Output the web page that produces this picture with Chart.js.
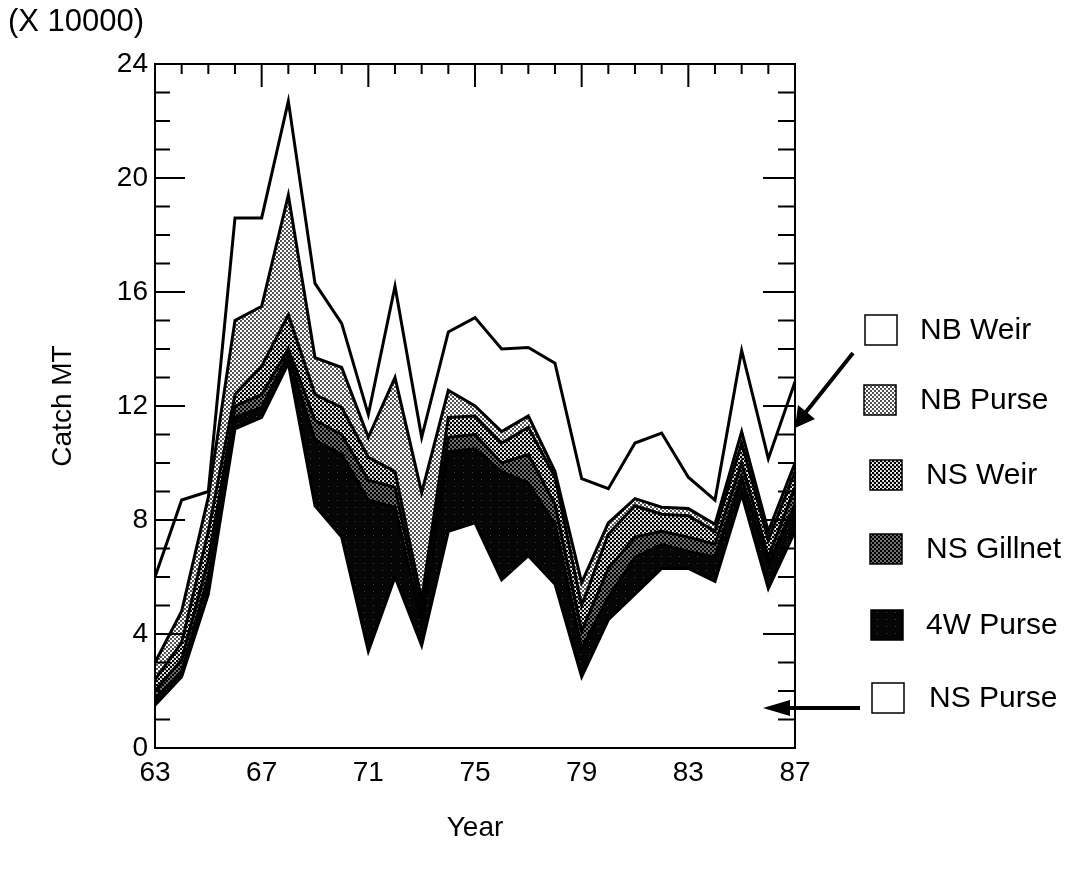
<!DOCTYPE html>
<html>
<head>
<meta charset="utf-8">
<script src="https://cdn.jsdelivr.net/npm/chart.js@4.4.1/dist/chart.umd.min.js"></script>
<style>
  body { margin: 0; background: #fff; }
  #wrap { width: 1081px; height: 876px; position: relative; }
</style>
</head>
<body>
<div id="wrap"><canvas id="catchChart"></canvas></div>
<script>
// years 1963-1987, shown as two digits
const years = ['63','64','65','66','67','68','69','70','71','72','73','74','75','76','77','78','79','80','81','82','83','84','85','86','87'];

// catch by fishery, in units of 10000 MT (stacked bottom to top)
const nsPurse   = [1.5, 2.5, 5.4, 11.2, 11.6, 13.5, 8.5, 7.4, 3.4, 6.0, 3.6, 7.6, 7.9, 5.9, 6.75, 5.75, 2.5, 4.5, 5.4, 6.3, 6.3, 5.85, 8.9, 5.6, 7.6];
const w4Purse   = [0.2, 0.2, 0.6, 0.4, 0.35, 0.3, 2.3, 2.9, 5.3, 2.45, 0.8, 2.8, 2.6, 3.8, 2.55, 2.1, 1.0, 0.8, 1.3, 0.85, 0.6, 0.85, 0.6, 0.85, 0.95];
const nsGillnet = [0.3, 0.4, 0.6, 0.4, 0.45, 0.2, 0.7, 0.7, 0.7, 0.7, 0.4, 0.5, 0.5, 0.3, 1.0, 0.7, 0.6, 1.0, 0.7, 0.45, 0.5, 0.45, 0.5, 0.25, 0.6];
const nsWeir    = [0.4, 0.6, 1.0, 0.4, 1.0, 1.2, 0.9, 0.95, 0.8, 0.55, 0.4, 0.7, 0.65, 0.7, 0.95, 0.95, 0.9, 1.2, 1.1, 0.6, 0.75, 0.45, 0.7, 0.6, 0.55];
const nbPurse   = [0.6, 1.1, 1.2, 2.6, 2.1, 4.2, 1.3, 1.4, 0.7, 3.3, 3.76, 0.95, 0.35, 0.4, 0.4, 0.2, 0.8, 0.4, 0.25, 0.25, 0.25, 0.25, 0.4, 0.3, 0.3];
const nbWeir    = [3.0, 3.9, 0.2, 3.6, 3.1, 3.3, 2.6, 1.55, 0.8, 3.2, 1.94, 2.05, 3.1, 2.9, 2.4, 3.8, 3.65, 1.2, 1.95, 2.6, 1.1, 0.85, 2.85, 2.55, 2.85];

const yMax = 24;

const FONT = '"Liberation Sans", Arial, Helvetica, sans-serif';
Chart.defaults.font.family = FONT;
Chart.defaults.color = '#000';

// halftone fills
function dotPattern(bg, fg, r) {
    const c = document.createElement('canvas');
    c.width = 4; c.height = 4;
    const g = c.getContext('2d');
    g.fillStyle = bg;
    g.fillRect(0, 0, 4, 4);
    g.fillStyle = fg;
    [[1, 1], [3, 3]].forEach(p => {
        g.beginPath();
        g.arc(p[0], p[1], r, 0, Math.PI * 2);
        g.fill();
    });
    return g.createPattern(c, 'repeat');
}
function speckPattern() {
    const c = document.createElement('canvas');
    c.width = 9; c.height = 7;
    const g = c.getContext('2d');
    g.fillStyle = '#050505';
    g.fillRect(0, 0, 9, 7);
    g.fillStyle = '#444';
    g.fillRect(4, 3, 1, 1);
    return g.createPattern(c, 'repeat');
}

const fills = {
    white: '#ffffff',
    light: dotPattern('#ffffff', '#000000', 0.9),
    mid: dotPattern('#ffffff', '#000000', 1.3),
    dark: dotPattern('#000000', '#ffffff', 0.8),
    black: speckPattern()
};

function layer(label, data, fill, bg) {
    return {
        label: label,
        data: data,
        fill: fill,
        backgroundColor: bg,
        borderColor: '#000',
        borderWidth: 3,
        pointRadius: 0,
        tension: 0
    };
}

// legend placement (top to bottom)
const legendRows = [
    { i: 5, box: 865, text: 920, y: 330 },
    { i: 4, box: 864, text: 920, y: 400 },
    { i: 3, box: 870, text: 926, y: 475 },
    { i: 2, box: 870, text: 926, y: 549 },
    { i: 1, box: 871, text: 926, y: 625 },
    { i: 0, box: 872, text: 929, y: 698 }
];

const decorations = {
    id: 'decorations',
    afterDraw(chart) {
        const ctx = chart.ctx;
        const a = chart.chartArea;
        const x = chart.scales.x, y = chart.scales.y;
        ctx.save();
        ctx.strokeStyle = '#000';
        ctx.lineWidth = 2;
        ctx.strokeRect(a.left, a.top, a.right - a.left, a.bottom - a.top);

        // inward ticks: left, right, top
        ctx.beginPath();
        for (let v = 0; v <= yMax; v++) {
            const py = y.getPixelForValue(v);
            const major = v % 4 === 0;
            ctx.moveTo(a.left, py); ctx.lineTo(a.left + (major ? 30 : 15), py);
            ctx.moveTo(a.right, py); ctx.lineTo(a.right - (major ? 32 : 17), py);
        }
        years.forEach((yr, i) => {
            const px = x.getPixelForValue(i);
            ctx.moveTo(px, a.top); ctx.lineTo(px, a.top + (i % 4 === 0 ? 23 : 10));
        });
        ctx.stroke();

        // "(X 10000)"
        ctx.fillStyle = '#000';
        ctx.font = '31px ' + FONT;
        ctx.textBaseline = 'middle';
        ctx.textAlign = 'left';
        ctx.fillText('(X 10000)', 8, 22);

        // legend
        ctx.font = '30px ' + FONT;
        legendRows.forEach(r => {
            const ds = chart.data.datasets[r.i];
            ctx.fillStyle = ds.backgroundColor;
            ctx.fillRect(r.box, r.y - 15, 32, 30);
            ctx.lineWidth = 1.5;
            ctx.strokeRect(r.box, r.y - 15, 32, 30);
            ctx.fillStyle = '#000';
            ctx.fillText(ds.label, r.text, r.y + 1);
        });

        // arrows
        ctx.lineWidth = 4;
        ctx.beginPath();
        ctx.moveTo(853, 353); ctx.lineTo(806, 412);
        ctx.moveTo(860, 708); ctx.lineTo(785, 708);
        ctx.stroke();
        ctx.beginPath();
        ctx.moveTo(795, 428); ctx.lineTo(798, 405); ctx.lineTo(815, 419); ctx.closePath();
        ctx.moveTo(763, 708); ctx.lineTo(790, 700); ctx.lineTo(790, 716); ctx.closePath();
        ctx.fill();
        ctx.restore();
    }
};

new Chart(document.getElementById('catchChart'), {
    type: 'line',
    data: {
        labels: years,
        datasets: [
            layer('NS Purse', nsPurse, 'origin', fills.white),
            layer('4W Purse', w4Purse, '-1', fills.black),
            layer('NS Gillnet', nsGillnet, '-1', fills.dark),
            layer('NS Weir', nsWeir, '-1', fills.mid),
            layer('NB Purse', nbPurse, '-1', fills.light),
            layer('NB Weir', nbWeir, '-1', fills.white)
        ]
    },
    options: {
        responsive: true,
        maintainAspectRatio: false,
        animation: false,
        layout: { padding: { top: 64, right: 286, left: 0, bottom: 0 } },
        plugins: { legend: { display: false }, tooltip: { enabled: false } },
        scales: {
            x: {
                grid: { display: false, drawTicks: false },
                border: { display: false },
                ticks: {
                    autoSkip: false,
                    maxRotation: 0,
                    padding: 8,
                    font: { size: 28 },
                    callback: (v, i) => i % 4 === 0 ? years[i] : ''
                },
                title: { display: true, text: 'Year', font: { size: 28 }, padding: { bottom: 31 } },
                afterFit: s => { s.height = 128; }
            },
            y: {
                stacked: true,
                min: 0,
                max: yMax,
                grid: { display: false, drawTicks: false },
                border: { display: false },
                ticks: { stepSize: 4, padding: 7, font: { size: 28 } },
                title: { display: true, text: 'Catch MT', font: { size: 28 }, padding: { top: 46 } },
                afterFit: s => { s.width = 155; }
            }
        }
    },
    plugins: [decorations]
});
</script>
</body>
</html>
